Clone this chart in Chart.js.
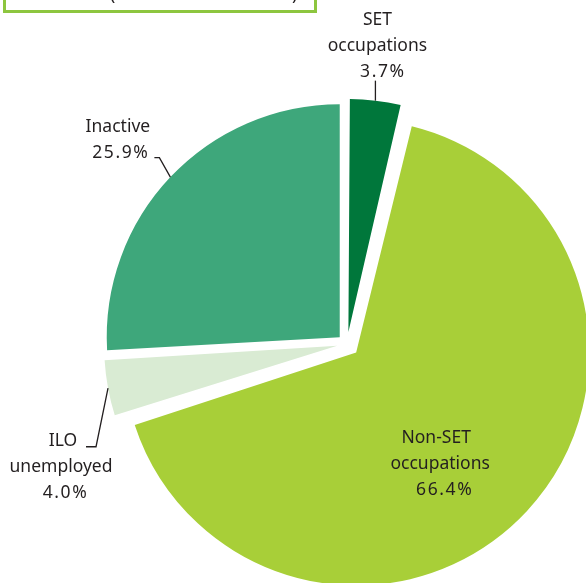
<!DOCTYPE html>
<html><head><meta charset="utf-8">
<script src="https://cdn.jsdelivr.net/npm/chart.js@4.4.1/dist/chart.umd.min.js"></script>
<style>html,body{margin:0;padding:0;background:#fff;overflow:hidden}#wrap{width:586px;height:583px;position:relative}</style>
</head><body><div id="wrap"><canvas id="c" width="586" height="583"></canvas></div>
<script>
const categories = ['SET occupations', 'Non-SET occupations', 'ILO unemployed', 'Inactive'];
const shares = [3.7, 66.4, 4.0, 25.9];
const nameLines = [['SET', 'occupations'], ['Non-SET', 'occupations'], ['ILO', 'unemployed'], ['Inactive']];
const colors = ['#00773b', '#a8cf38', '#d9ebd3', '#3ea77b'];

const FONT = '17.5px "Noto Sans", "Open Sans", sans-serif';
const INK = '#231f20';
const LH = 25.8;
const PIE_RADIUS = 233;
// label layout relative to each slice's outer mid-point (anchor) or vertex
const labelStyle = [
  {ref: 'anchor', leader: [[0, 0], [0, -20]], dx: 2, lastBase: -24, lineDx: [0, 0, 5.5]},
  {ref: 'vertex', leader: null, dx: 84, firstBase: 90.5, lineDx: [-4, 0, 4.5]},
  {ref: 'anchor', leader: [[0, 0], [-12, 58.7], [-22, 58.7]], dx: -46, lastBase: 110, lineDx: [1, -1, 3.5]},
  {ref: 'anchor', leader: [[0, 0], [-11, -19.5], [-16, -19.5]], dx: -52, lastBase: -19, lineDx: [-0.5, 2.5]}
];

function arcFix(circ) { return 1 - Math.sin(Math.min(Math.PI, circ || 0)); }

// keep every exploded slice at the same drawn radius (Chart.js enlarges offset slices)
const radiusPlugin = {
  id: 'equalRadius',
  afterDatasetUpdate(chart, args) {
    const meta = chart.getDatasetMeta(args.index);
    meta.data.forEach(arc => {
      const off = (arc.options.offset || 0) / 4;
      arc.outerRadius = PIE_RADIUS - off * arcFix(arc.circumference);
    });
  }
};

const labelPlugin = {
  id: 'sliceLabels',
  afterDatasetsDraw(chart) {
    const ctx = chart.ctx;
    const meta = chart.getDatasetMeta(0);
    ctx.save();
    ctx.font = FONT;
    ctx.fillStyle = INK;
    ctx.strokeStyle = INK;
    ctx.lineWidth = 1.3;
    ctx.textAlign = 'center';
    ctx.textBaseline = 'alphabetic';
    meta.data.forEach((arc, i) => {
      const p = arc.getProps(['x', 'y', 'startAngle', 'endAngle', 'outerRadius', 'circumference']);
      const off = (arc.options.offset || 0) / 4;
      const r = p.outerRadius + off * arcFix(p.circumference);
      const half = (p.startAngle + p.endAngle) / 2;
      const vx = p.x + Math.cos(half) * off, vy = p.y + Math.sin(half) * off;
      const ax = vx + Math.cos(half) * r, ay = vy + Math.sin(half) * r;
      const s = labelStyle[i];
      const bx = s.ref === 'anchor' ? ax : vx, by = s.ref === 'anchor' ? ay : vy;
      if (s.leader) {
        ctx.beginPath();
        s.leader.forEach((pt, k) => {
          if (k === 0) ctx.moveTo(bx + pt[0], by + pt[1]); else ctx.lineTo(bx + pt[0], by + pt[1]);
        });
        ctx.stroke();
      }
      const lines = nameLines[i].concat([shares[i].toFixed(1) + '%']);
      const first = s.firstBase !== undefined ? by + s.firstBase : by + s.lastBase - LH * (lines.length - 1);
      lines.forEach((ln, k) => {
        const isPct = k === lines.length - 1;
        ctx.letterSpacing = isPct ? '1.6px' : '0px';
        ctx.fillText(ln, bx + s.dx + (s.lineDx[k] || 0), first + k * LH);
      });
    });
    ctx.restore();
  }
};

const boxPlugin = {
  id: 'titleBox',
  beforeDraw(chart) {
    const ctx = chart.ctx;
    ctx.save();
    ctx.strokeStyle = '#8dc63f';
    ctx.lineWidth = 3;
    ctx.strokeRect(4.5, -20, 311, 31.5);
    ctx.font = '17.5px "Noto Sans", sans-serif';
    ctx.fillStyle = INK;
    ctx.textBaseline = 'alphabetic';
    ctx.fillText('(', 110, 0);
    ctx.fillText(')', 292, 0);
    ctx.restore();
  }
};

new Chart(document.getElementById('c'), {
  type: 'pie',
  data: {
    labels: categories,
    datasets: [{
      data: shares,
      backgroundColor: colors,
      borderWidth: 0,
      offset: [48, 50, 40, 40],
      radius: PIE_RADIUS,
      clip: false
    }]
  },
  options: {
    responsive: false,
    animation: false,
    radius: PIE_RADIUS,
    layout: {padding: {left: 108, right: 0, top: 105, bottom: 0}},
    plugins: {legend: {display: false}, tooltip: {enabled: false}, title: {display: false}}
  },
  plugins: [boxPlugin, radiusPlugin, labelPlugin]
});
</script></body></html>
